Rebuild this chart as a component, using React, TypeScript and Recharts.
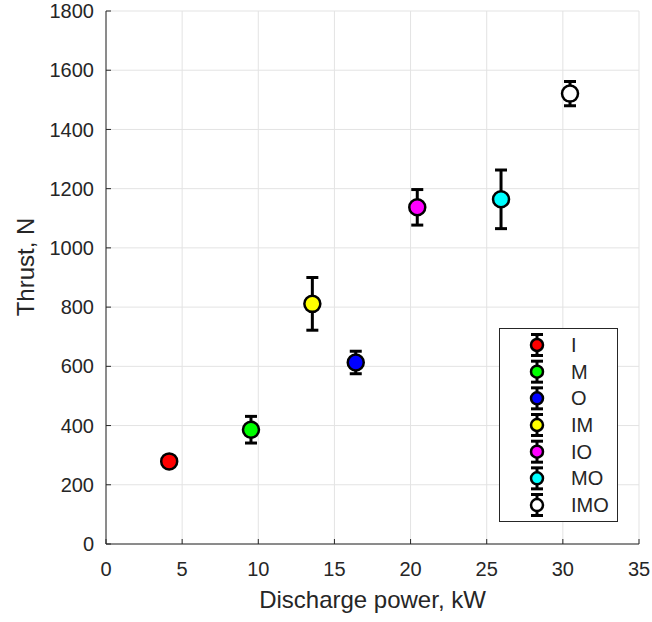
import React from 'react';
import { ScatterChart, Scatter, XAxis, YAxis, CartesianGrid, ErrorBar, Legend } from 'recharts';

const seriesNames = ['I', 'M', 'O', 'IM', 'IO', 'MO', 'IMO'];
const seriesColors = ['#ff0000', '#00ff00', '#0000ff', '#ffff00', '#ff00ff', '#00ffff', '#ffffff'];
const powerKW = [4.15, 9.52, 16.4, 13.55, 20.44, 25.94, 30.47];
const thrustN = [279, 386, 613, 811, 1137, 1164, 1521];
const thrustErr = [12, 45, 38, 89, 60, 99, 41];
const xTicks = [0, 5, 10, 15, 20, 25, 30, 35];
const yTicks = [0, 200, 400, 600, 800, 1000, 1200, 1400, 1600, 1800];

const FONT = '"Liberation Sans", Arial, Helvetica, sans-serif';
const AX = '#262626';

const seriesData = seriesNames.map((name, i) => ({
  name,
  color: seriesColors[i],
  data: [{ x: powerKW[i], y: thrustN[i], err: thrustErr[i] }],
}));

const makeShape = (color: string) => (props: any) => (
  <circle cx={props.cx} cy={props.cy} r={8} fill={color} stroke="#000" strokeWidth={2.5} />
);

const renderLegend = () => (
  <svg width={120} height={195} style={{ display: 'block' }}>
    <rect x={0.5} y={0.5} width={118} height={193} fill="#fff" stroke={AX} strokeWidth={1} />
    {seriesNames.map((n, i) => {
      const cy = 17 + i * 26.67;
      return (
        <g key={n}>
          <line x1={38} x2={38} y1={cy - 10.5} y2={cy + 10.5} stroke="#000" strokeWidth={3} />
          <line x1={32} x2={44} y1={cy - 10.5} y2={cy - 10.5} stroke="#000" strokeWidth={3} />
          <line x1={32} x2={44} y1={cy + 10.5} y2={cy + 10.5} stroke="#000" strokeWidth={3} />
          <circle cx={38} cy={cy} r={6} fill={seriesColors[i]} stroke="#000" strokeWidth={2.5} />
          <text x={72} y={cy + 7} fontSize={20} fontFamily={FONT} fill={AX}>{n}</text>
        </g>
      );
    })}
  </svg>
);

const XLabel = (props: any) => {
  const vb = props.viewBox;
  return (
    <text x={vb.x + vb.width / 2} y={608} textAnchor="middle" fontSize={24} fontFamily={FONT} fill={AX}>
      Discharge power, kW
    </text>
  );
};

const YLabel = (props: any) => {
  const x = 34;
  const y = 267;
  return (
    <text x={x} y={y} transform={`rotate(-90 ${x} ${y})`} textAnchor="middle" fontSize={24} fontFamily={FONT} fill={AX}>
      Thrust, N
    </text>
  );
};

export default function App() {
  return (
    <div style={{ position: 'absolute', left: 0, top: 0, width: 652, height: 622, background: '#fff' }}>
      <ScatterChart width={652} height={622} margin={{ top: 11, right: 13, bottom: 0, left: 0 }}>
        <CartesianGrid stroke="#e3e3e3" strokeWidth={1} />
        <XAxis
          type="number"
          dataKey="x"
          domain={[0, 35]}
          ticks={xTicks}
          interval={0}
          allowDataOverflow
          height={78}
          stroke={AX}
          tickSize={-5}
          tickMargin={23}
          tick={{ fill: AX, fontSize: 20, fontFamily: FONT }}
          label={<XLabel />}
        />
        <XAxis
          xAxisId="top"
          orientation="top"
          type="number"
          dataKey="x"
          domain={[0, 35]}
          ticks={xTicks}
          interval={0}
          allowDataOverflow
          height={0}
          stroke={AX}
          tickSize={-5}
          tick={false}
        />
        <YAxis
          type="number"
          dataKey="y"
          domain={[0, 1800]}
          ticks={yTicks}
          interval={0}
          allowDataOverflow
          width={106}
          stroke={AX}
          tickSize={-5}
          tickMargin={17}
          tick={{ fill: AX, fontSize: 20, fontFamily: FONT }}
          label={<YLabel />}
        />
        <YAxis
          yAxisId="right"
          orientation="right"
          type="number"
          dataKey="y"
          domain={[0, 1800]}
          ticks={yTicks}
          interval={0}
          allowDataOverflow
          width={0}
          stroke={AX}
          tickSize={-5}
          tick={false}
        />
        <Legend
          layout="vertical"
          align="center"
          verticalAlign="middle"
          content={renderLegend}
          wrapperStyle={{ left: 499, top: 328, width: 120, height: 195 }}
        />
        {seriesData.map((s) => (
          <Scatter
            key={s.name}
            name={s.name}
            data={s.data}
            fill={s.color}
            isAnimationActive={false}
            shape={makeShape(s.color)}
          >
            <ErrorBar dataKey="err" direction="y" width={6} stroke="#000" strokeWidth={3} />
          </Scatter>
        ))}
      </ScatterChart>
    </div>
  );
}
